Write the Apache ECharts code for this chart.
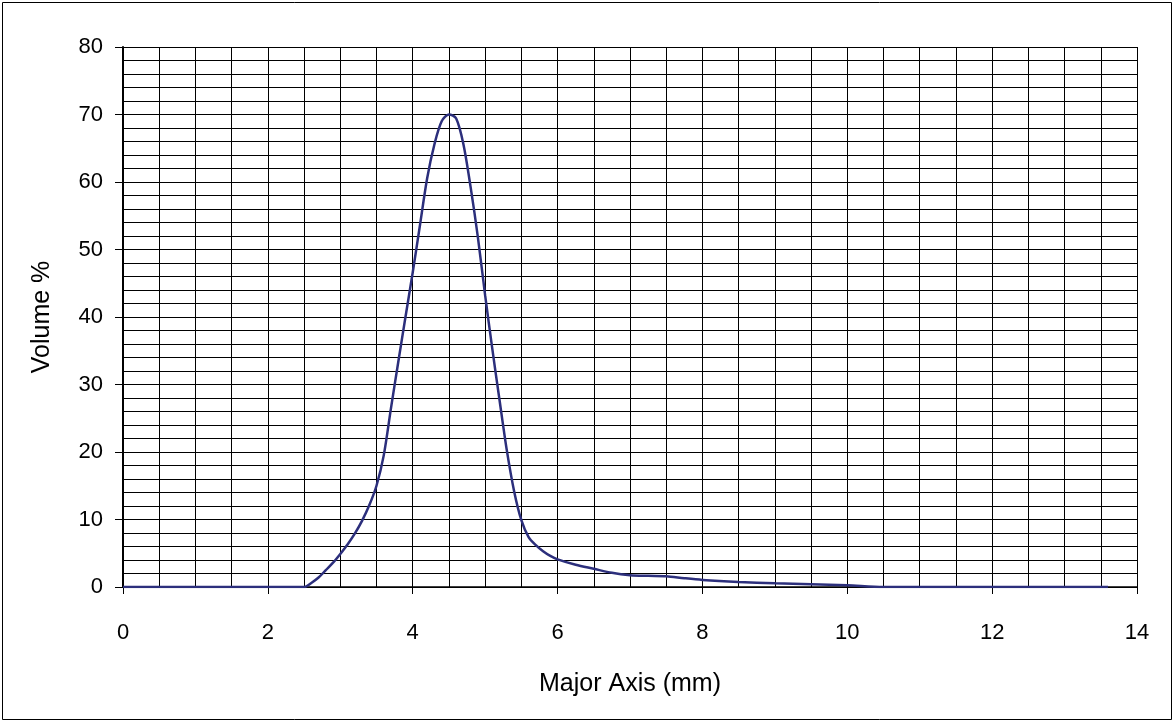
<!DOCTYPE html>
<html>
<head>
<meta charset="utf-8">
<script src="https://cdn.jsdelivr.net/npm/echarts@6/dist/echarts.min.js"></script>
<style>
  html, body { margin: 0; padding: 0; background: #fff; }
  #chart { width: 1175px; height: 723px; }
</style>
</head>
<body>
<div id="chart"></div>
<script>
// major axis (mm) vs volume %
const sizes = [0, 0.5, 1, 1.5, 2, 2.5, 2.6, 2.7, 2.8, 2.9, 3.0, 3.1, 3.2, 3.3, 3.4, 3.5, 3.6, 3.7, 3.8, 3.9,
    4.0, 4.1, 4.2, 4.3, 4.4, 4.5, 4.6, 4.7, 4.8, 4.9, 5.0, 5.1, 5.2, 5.3, 5.4, 5.5, 5.6, 5.7, 5.8, 5.9,
    6.0, 6.25, 6.5, 6.75, 7.0, 7.25, 7.5, 7.75, 8.0, 8.5, 9.0, 9.5, 10.0, 10.5, 11, 12, 13, 13.6];
const volume = [0, 0, 0, 0, 0, 0, 0.6, 1.4, 2.5, 3.6, 4.9, 6.3, 7.9, 9.8, 12.1, 15.0, 19.5, 26.5, 33.3, 40,
    46.6, 53.6, 60.6, 65.6, 69.0, 70.0, 69.4, 65.6, 59.2, 51.8, 43.2, 35.2, 27.6, 20.2, 14.2, 9.9, 7.4, 6.2, 5.3, 4.6,
    4.1, 3.3, 2.7, 2.1, 1.75, 1.65, 1.6, 1.3, 1.05, 0.75, 0.55, 0.4, 0.25, 0, 0, 0, 0, 0];
const xTicks = [0, 2, 4, 6, 8, 10, 12, 14];
const yTicks = [0, 10, 20, 30, 40, 50, 60, 70, 80];

const font = 'Liberation Sans, Arial, sans-serif';
const lineColor = '#2c2f7c';

const chart = echarts.init(document.getElementById('chart'));

chart.setOption({
    animation: false,
    backgroundColor: '#fff',
    grid: { left: 123, top: 47, right: 38, bottom: 136 },
    graphic: [{
        type: 'rect',
        shape: { x: 2.5, y: 2.5, width: 1169, height: 717 },
        style: { fill: 'none', stroke: '#000', lineWidth: 1 }
    }],
    xAxis: [
        {
            // grid + inner ticks every 0.5
            type: 'value', min: 0, max: 14, interval: 0.5,
            axisLine: { show: true, onZero: false, lineStyle: { color: '#000', width: 1.5 } },
            axisTick: { show: true, inside: true, length: 5, lineStyle: { color: '#000' } },
            axisLabel: { show: false },
            splitLine: { show: true, lineStyle: { color: '#000', width: 1 } }
        },
        {
            // labelled axis every 2
            type: 'value', min: 0, max: 14, interval: 2, position: 'bottom',
            axisLine: { show: false },
            axisTick: { show: true, length: 7, lineStyle: { color: '#000' } },
            axisLabel: {
                margin: 35, fontSize: 22, color: '#000', fontFamily: font,
                formatter: v => xTicks.includes(v) ? String(v) : ''
            },
            splitLine: { show: false },
            name: 'Major Axis (mm)', nameLocation: 'middle', nameGap: 85,
            nameTextStyle: { fontSize: 25, color: '#000', fontFamily: font }
        }
    ],
    yAxis: [
        {
            // grid + inner ticks every 2
            type: 'value', min: 0, max: 80, interval: 2,
            axisLine: { show: true, lineStyle: { color: '#000', width: 2 } },
            axisTick: { show: true, inside: true, length: 5, lineStyle: { color: '#000' } },
            axisLabel: { show: false },
            splitLine: { show: true, lineStyle: { color: '#000', width: 1 } }
        },
        {
            // labelled axis every 10
            type: 'value', min: 0, max: 80, interval: 10, position: 'left',
            axisLine: { show: false },
            axisTick: { show: true, length: 8, lineStyle: { color: '#000' } },
            axisLabel: {
                margin: 20, fontSize: 22, color: '#000', fontFamily: font,
                formatter: v => yTicks.includes(v) ? String(v) : ''
            },
            splitLine: { show: false },
            name: 'Volume %', nameLocation: 'middle', nameGap: 68,
            nameTextStyle: { fontSize: 25, color: '#000', fontFamily: font }
        }
    ],
    series: [{
        type: 'line',
        xAxisIndex: 0,
        yAxisIndex: 0,
        data: sizes.map((s, i) => [s, volume[i]]),
        smooth: 0.3,
        showSymbol: false,
        lineStyle: { color: lineColor, width: 2.5 }
    }]
});
</script>
</body>
</html>
